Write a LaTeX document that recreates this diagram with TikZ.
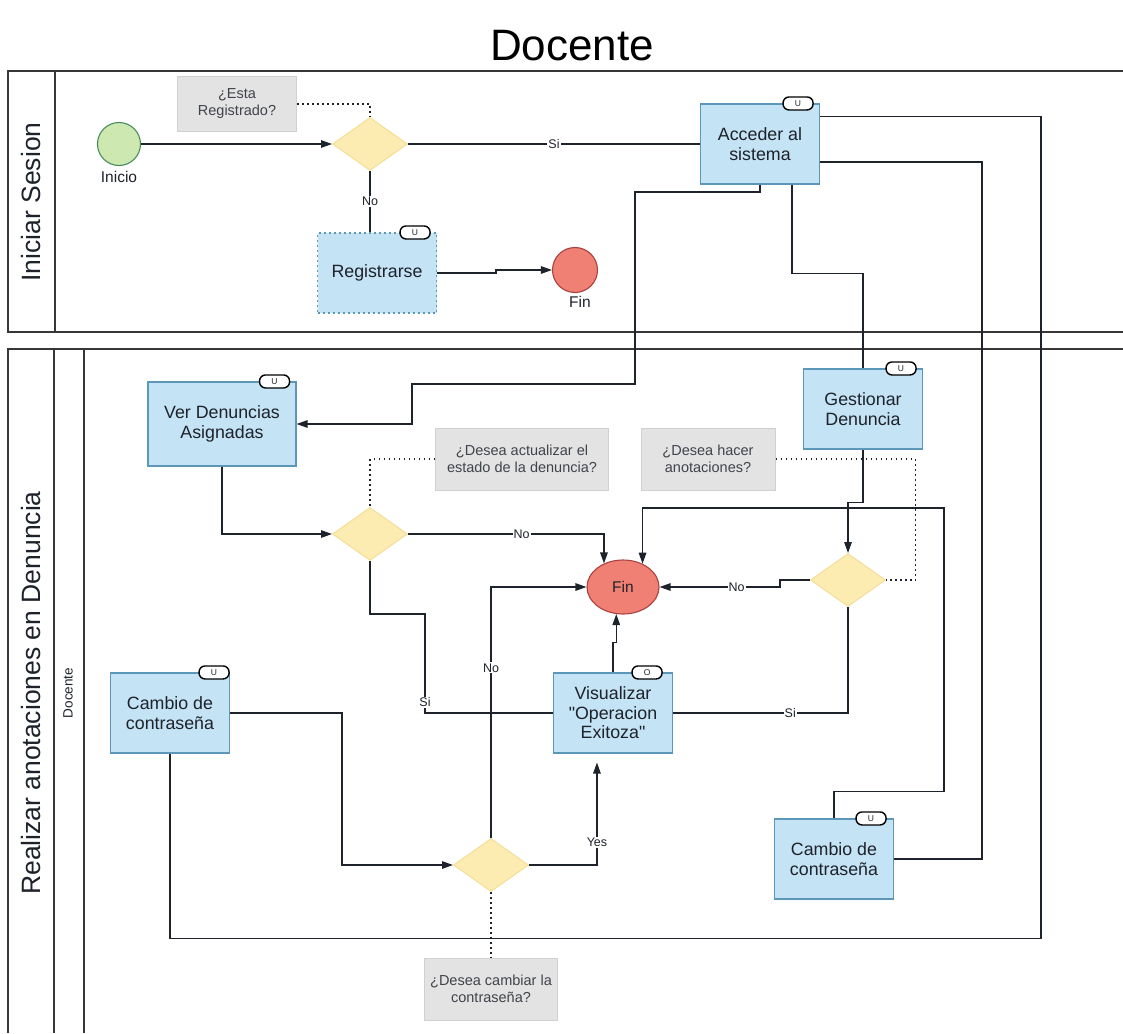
\documentclass[tikz,border=0pt]{standalone}
\usepackage{fontspec}
\setmainfont{Liberation Sans}
\usetikzlibrary{arrows.meta,calc,shapes.geometric}
\definecolor{taskfill}{RGB}{196,227,245}
\definecolor{taskline}{RGB}{92,150,185}
\definecolor{gatefill}{RGB}{253,236,178}
\definecolor{gateline}{RGB}{244,222,150}
\definecolor{startfill}{RGB}{205,232,176}
\definecolor{startline}{RGB}{70,140,90}
\definecolor{endfill}{RGB}{240,128,115}
\definecolor{endline}{RGB}{170,65,65}
\definecolor{notefill}{RGB}{227,227,227}
\definecolor{noteline}{RGB}{208,208,208}
\definecolor{ink}{RGB}{30,34,42}
\definecolor{poolline}{RGB}{55,55,55}
\begin{document}
\begin{tikzpicture}[x=1pt,y=-1pt,
  every node/.style={text=ink},
  pool/.style={draw=poolline, line width=1.4pt},
  task/.style={draw=taskline, fill=taskfill, line width=1.1pt, minimum width=119pt,
    minimum height=80pt, inner sep=2pt, align=center, font=\fontsize{17.8}{19.5}\selectfont},
  badge/.style={draw=black, fill=white, line width=1.4pt, rounded corners=6pt,
    minimum width=30pt, minimum height=13pt, inner sep=0pt, font=\fontsize{8.5}{8.5}\selectfont},
  gate/.style={diamond, draw=gateline, fill=gatefill, line width=1pt, aspect=1.415,
    minimum width=75pt, minimum height=53pt, inner sep=0pt},
  note/.style={draw=noteline, fill=notefill, line width=1pt, align=center,
    font=\fontsize{14.5}{17}\selectfont, text=ink!85},
  startev/.style={circle, draw=startline, fill=startfill, line width=1.1pt, minimum size=43pt, inner sep=0pt},
  endev/.style={draw=endline, fill=endfill, line width=1.1pt, inner sep=0pt, font=\fontsize{15.5}{16}\selectfont},
  evl/.style={font=\fontsize{15.5}{16}\selectfont},
  lanetitle/.style={rotate=90, font=\fontsize{26.5}{28}\selectfont},
  conn/.style={draw=ink, line width=1.3pt},
  arr/.style={conn, -{Triangle[length=11pt,width=7.5pt]}},
  dot/.style={draw=ink, line width=1.2pt, dash pattern=on 1.5pt off 3.5pt},
  lbl/.style={fill=white, inner sep=1pt, font=\fontsize{12.5}{14}\selectfont}
]
\fill[white] (0,0) rectangle (1123,1033);
\useasboundingbox (0,0) rectangle (1123,1033);

% title
\node[font=\fontsize{44}{50}\selectfont, text=black] (title) at (572,46) {Docente};

% pools and lanes
\draw[pool] (1123,71) -- (8,71) -- (8,332) -- (1123,332);
\draw[pool] (55,71) -- (55,332);
\draw[pool] (1123,349) -- (8,349) -- (8,1033);
\draw[pool] (54,349) -- (54,1033);
\draw[pool] (84,349) -- (84,1033);
\node[lanetitle] (lane1) at (31,202) {Iniciar Sesion};
\node[lanetitle] (lane2) at (31,693) {Realizar anotaciones en Denuncia};
\node[rotate=90, font=\fontsize{13.5}{14}\selectfont] (lane3) at (68,693) {Docente};

% pool 1: login
\node[startev] (ini) at (119,144) {};
\node[evl] (iniL) at (119,177) {Inicio};
\node[gate] (gw1) at (370,144) {};
\node[note, minimum width=119pt, minimum height=55pt] (n1) at (237,104) {¿Esta\\Registrado?};
\node[task] (acc) at (760,144) {Acceder al\\sistema};
\node[task, dash pattern=on 2pt off 3pt] (reg) at (377,273) {Registrarse};
\node[endev, circle, minimum size=45pt] (fin1) at (575,270) {};
\node[evl] (fin1L) at (580,302) {Fin};

% pool 2: annotations
\node[task, minimum width=148pt, minimum height=84pt] (ver) at (222,424) {Ver Denuncias\\Asignadas};
\node[gate] (gw2) at (370,534) {};
\node[note, minimum width=173pt, minimum height=62pt] (n2) at (522,459) {¿Desea actualizar el\\estado de la denuncia?};
\node[note, minimum width=134pt, minimum height=62pt] (n3) at (708,459) {¿Desea hacer\\anotaciones?};
\node[task] (gest) at (863,409) {Gestionar\\Denuncia};
\node[gate] (gw3) at (848,580) {};
\node[endev, ellipse, minimum width=72pt, minimum height=54pt] (fin2) at (623,587) {Fin};
\node[task] (vis) at (613,713) {Visualizar\\\textquotedbl Operacion\\Exitoza\textquotedbl};
\node[task] (cam1) at (170,713) {Cambio de\\contraseña};
\node[gate] (gw4) at (491,865) {};
\node[note, minimum width=133pt, minimum height=62pt] (n4) at (491,989) {¿Desea cambiar la\\contraseña?};
\node[task] (cam2) at (834,859) {Cambio de\\contraseña};

% task markers
\node[badge] (accU) at ($(acc.north east)+(-22,0)$) {U};
\node[badge] (regU) at ($(reg.north east)+(-22,0)$) {U};
\node[badge] (verU) at ($(ver.north east)+(-22,0)$) {U};
\node[badge] (gestU) at ($(gest.north east)+(-22,0)$) {U};
\node[badge] (visO) at ($(vis.north east)+(-26,0)$) {O};
\node[badge] (cam1U) at ($(cam1.north east)+(-16,0)$) {U};
\node[badge] (cam2U) at ($(cam2.north east)+(-23,0)$) {U};

% connectors, pool 1
\draw[arr] (ini.east) -- (gw1.west);
\draw[conn] (gw1.east) -- node[lbl]{Si} (acc.west);
\draw[conn] (gw1.south) -- node[lbl]{No} (gw1.south |- reg.north);
\draw[arr] (reg.east) -- ++(59,0) |- (fin1.west);
\draw[dot] (n1.east) -| (gw1.north);

% connectors leaving "Acceder al sistema"
\draw[arr] (acc.south) |- (635,192) |- (412,384) |- (ver.east);
\draw[conn] ($(acc.south)+(32,0)$) -- ++(0,89) -| (gest.north);
\draw[conn] ($(acc.east)+(0,18)$) -- ++(162,0) |- (cam2.east);
\draw[conn] ($(acc.north east)+(0,13)$) -- ++(221,0) |- ($(cam1.south)+(0,185)$) -- (cam1.south);

% connectors, pool 2
\draw[arr] (ver.south) |- (gw2.west);
\draw[dot] (n2.west) -| (gw2.north);
\draw[arr] (gw2.east) -| node[lbl,pos=0.29]{No} (fin2.129);
\draw[conn] (gw2.south) |- (425,614) |- node[lbl,pos=0.445]{Si} (vis.west);
\draw[arr] (gest.south) -- ++(0,53) -| (gw3.north);
\draw[dot] (n3.east) -- ++(140,0) |- (gw3.east);
\draw[arr] (gw3.west) -- ++(-30,0) |- node[lbl,pos=0.68]{No} (fin2.east);
\draw[conn] (gw3.south) |- node[lbl,pos=0.665]{Si} (vis.east);
\draw[arr] (vis.north) -- ++(0,-30) -| (fin2.-104);
\draw[arr] (cam1.east) -- ++(112,0) |- (gw4.west);
\draw[arr] (gw4.east) -| node[lbl,pos=0.61]{Yes} ($(vis.south west)+(44,9)$);
\draw[arr] (gw4.north) |- node[lbl,pos=0.339]{No} (fin2.west);
\draw[dot] (gw4.south) -- (n4.north);
\coordinate (loopR) at (944,508);
\draw[arr] (cam2.north) -- ++(0,-27) -| (loopR) -| (fin2.50);
\end{tikzpicture}
\end{document}
